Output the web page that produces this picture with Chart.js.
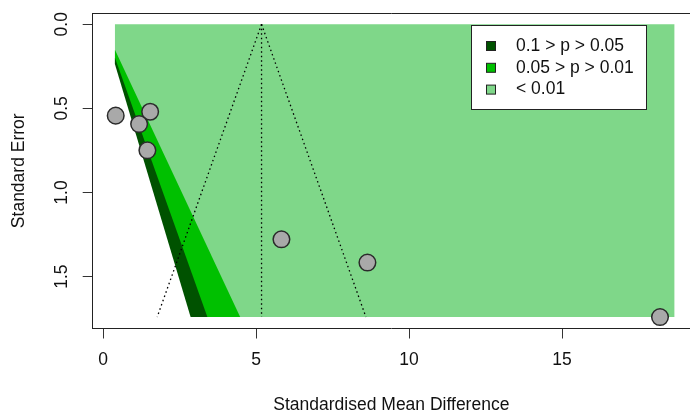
<!DOCTYPE html>
<html>
<head>
<meta charset="utf-8">
<script src="https://cdn.jsdelivr.net/npm/chart.js@4.4.1/dist/chart.umd.min.js"></script>
<style>
  body { margin: 0; background: #fff; }
  canvas { display: block; }
</style>
</head>
<body>
<canvas id="chart" width="690" height="411"></canvas>
<script>
// study effects and standard errors
const yi = [0.415, 1.54, 1.18, 1.45, 5.83, 8.64, 18.2];
const sei = [0.543, 0.52, 0.593, 0.749, 1.278, 1.416, 1.74];

// pooled estimate and funnel extent
const estimate = 5.18;
const seMax = 1.74;
const xLower = 0.39;
const xUpper = 18.67;

// contour levels (z for p = 0.1, 0.05, 0.01)
const contourZ = [1.645, 1.96, 2.576];
const contourLabels = ["0.1 > p > 0.05", "0.05 > p > 0.01", "< 0.01"];
const contourColors = ["#005200", "#00c000", "#7fd789"];

const xTicks = [0, 5, 10, 15];
const yTicks = [0, 0.5, 1, 1.5];
const yTickLabels = ["0.0", "0.5", "1.0", "1.5"];

const FONT = "'Liberation Sans', Arial, sans-serif";

// region to the right of a contour line x = z * se, clipped at xLower
function wedge(z, overhang) {
  const left = xLower - overhang;
  return [
    { x: xLower, y: xLower / z },
    { x: z * seMax, y: seMax },
    { x: left, y: seMax },
    { x: left, y: xLower / z },
  ];
}

const shape = (data, color, order) => ({
  data: data,
  showLine: true,
  fill: "shape",
  backgroundColor: color,
  borderColor: "rgba(0,0,0,0)",
  borderWidth: 0,
  pointRadius: 0,
  order: order,
});

const dotted = (data) => ({
  data: data,
  showLine: true,
  fill: false,
  borderColor: "#000",
  borderWidth: 1.3,
  borderDash: [1.5, 3],
  pointRadius: 0,
  order: 2,
});

const datasets = [
  shape([
    { x: xLower, y: 0 }, { x: xUpper, y: 0 },
    { x: xUpper, y: seMax }, { x: xLower, y: seMax },
  ], contourColors[2], 10),
  shape(wedge(contourZ[2], 0), contourColors[1], 9),
  shape(wedge(contourZ[1], 0), contourColors[0], 8),
  shape(wedge(contourZ[0], 0.2), "#ffffff", 7),
  dotted([{ x: estimate, y: 0 }, { x: estimate, y: seMax }]),
  dotted([{ x: estimate, y: 0 }, { x: estimate - 1.96 * seMax, y: seMax }]),
  dotted([{ x: estimate, y: 0 }, { x: estimate + 1.96 * seMax, y: seMax }]),
  {
    data: yi.map((v, i) => ({ x: v, y: sei[i] })),
    pointRadius: 8.3,
    pointBackgroundColor: "#a9a9a9",
    pointBorderColor: "#2b2b2b",
    pointBorderWidth: 1.5,
    order: 0,
  },
];

const boxAndLabels = {
  id: "boxAndLabels",
  afterDraw(chart) {
    const ctx = chart.ctx;
    const area = chart.chartArea;
    const ys = chart.scales.y;

    // top edge of plot box
    ctx.save();
    ctx.strokeStyle = "#222";
    ctx.lineWidth = 1;
    ctx.beginPath();
    ctx.moveTo(area.left, area.top + 0.5);
    ctx.lineTo(area.right, area.top + 0.5);
    ctx.stroke();

    // rotated y tick labels
    ctx.fillStyle = "#111";
    ctx.font = "17.5px " + FONT;
    ctx.textAlign = "center";
    ctx.textBaseline = "middle";
    yTicks.forEach((t, i) => {
      ctx.save();
      ctx.translate(62, ys.getPixelForValue(t));
      ctx.rotate(-Math.PI / 2);
      ctx.fillText(yTickLabels[i], 0, 0);
      ctx.restore();
    });

    // legend
    const lx = 471, ly = 25, lw = 175, lh = 84;
    ctx.fillStyle = "#fff";
    ctx.fillRect(lx, ly, lw, lh);
    ctx.strokeStyle = "#222";
    ctx.strokeRect(lx + 0.5, ly + 0.5, lw, lh);
    ctx.textAlign = "left";
    contourLabels.forEach((lab, i) => {
      const cy = 46 + i * 21.8;
      ctx.fillStyle = contourColors[i];
      ctx.fillRect(486, cy - 4.5, 9, 9);
      ctx.strokeStyle = "#222";
      ctx.strokeRect(486.5, cy - 4.5, 9, 9);
      ctx.fillStyle = "#111";
      ctx.fillText(lab, 516, cy);
    });
    ctx.restore();
  },
};

new Chart(document.getElementById("chart"), {
  type: "scatter",
  data: { datasets: datasets },
  options: {
    responsive: false,
    animation: false,
    layout: { autoPadding: false, padding: { top: 13, right: 0, left: 0, bottom: 0 } },
    plugins: { legend: { display: false }, tooltip: { enabled: false } },
    scales: {
      x: {
        min: -0.337,
        max: 19.18,
        afterBuildTicks: (s) => { s.ticks = xTicks.map((v) => ({ value: v })); },
        afterFit: (s) => { s.height = 82.5; },
        grid: { drawOnChartArea: false, drawTicks: true, tickLength: 10, color: "#333" },
        border: { display: true, color: "#222", width: 1 },
        ticks: { color: "#111", font: { size: 17.5, family: FONT }, padding: 11, maxRotation: 0 },
        title: {
          display: true,
          text: "Standardised Mean Difference",
          color: "#111",
          font: { size: 17.5, family: FONT },
          padding: { top: 0, bottom: -5 },
        },
      },
      y: {
        reverse: true,
        min: -0.067,
        max: 1.808,
        afterBuildTicks: (s) => { s.ticks = yTicks.map((v) => ({ value: v })); },
        afterFit: (s) => { s.width = 92.7; },
        grid: { drawOnChartArea: false, drawTicks: true, tickLength: 10, color: "#333" },
        border: { display: true, color: "#222", width: 1 },
        ticks: { display: false },
        title: {
          display: true,
          text: "Standard Error",
          color: "#111",
          font: { size: 17.5, family: FONT },
          padding: { top: 8.5, bottom: 0 },
        },
      },
    },
  },
  plugins: [boxAndLabels],
});
</script>
</body>
</html>
